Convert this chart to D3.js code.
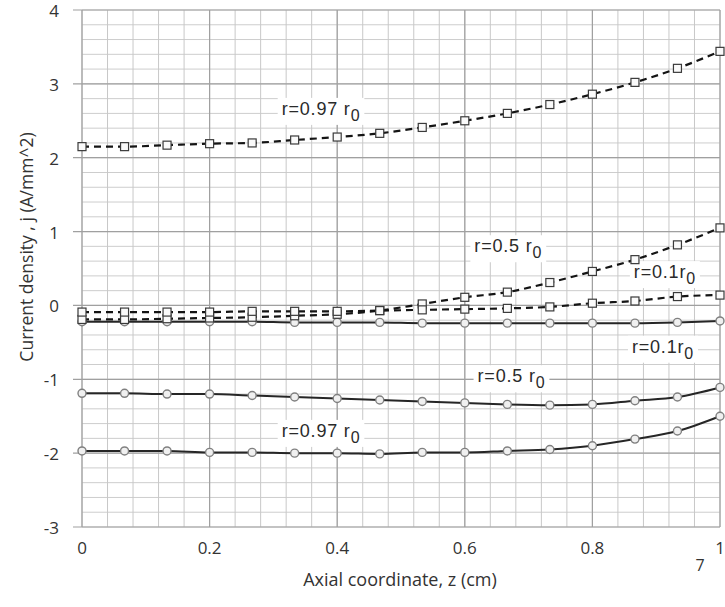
<!DOCTYPE html>
<html><head><meta charset="utf-8">
<script src="https://cdn.jsdelivr.net/npm/d3@7"></script>
<style>
html,body{margin:0;padding:0;background:#fff;}
svg{display:block;}
</style></head>
<body>
<svg id="chart" width="725" height="607"></svg>
<script>
// ---- data ----
const zValues = [0, 0.0667, 0.1333, 0.2, 0.2667, 0.3333, 0.4, 0.4667, 0.5333, 0.6, 0.6667, 0.7333, 0.8, 0.8667, 0.9333, 1.0];
const dashed097 = [2.15, 2.15, 2.17, 2.19, 2.20, 2.24, 2.28, 2.33, 2.41, 2.50, 2.60, 2.72, 2.86, 3.02, 3.21, 3.44];
const dashed05  = [-0.19, -0.19, -0.18, -0.17, -0.16, -0.14, -0.12, -0.07, 0.02, 0.11, 0.18, 0.31, 0.46, 0.62, 0.82, 1.05];
const dashed01  = [-0.09, -0.09, -0.09, -0.09, -0.08, -0.08, -0.08, -0.07, -0.06, -0.05, -0.04, -0.02, 0.03, 0.06, 0.12, 0.14];
const solid01   = [-0.22, -0.22, -0.22, -0.22, -0.22, -0.23, -0.23, -0.23, -0.24, -0.24, -0.24, -0.24, -0.24, -0.24, -0.23, -0.21];
const solid05   = [-1.19, -1.19, -1.20, -1.20, -1.22, -1.24, -1.26, -1.28, -1.30, -1.32, -1.34, -1.35, -1.34, -1.29, -1.24, -1.11];
const solid097  = [-1.97, -1.97, -1.97, -1.99, -1.99, -2.00, -2.00, -2.01, -1.99, -1.99, -1.97, -1.95, -1.90, -1.81, -1.70, -1.50];
const xTicks = [0, 0.2, 0.4, 0.6, 0.8, 1];
const xTickLabels = ["0", "0.2", "0.4", "0.6", "0.8", "1"];
const yTicks = [-3, -2, -1, 0, 1, 2, 3, 4];
const yTickLabels = ["-3", "-2", "-1", "0", "1", "2", "3", "4"];
const xMinor = [0,0.04,0.08,0.12,0.16,0.2,0.24,0.28,0.32,0.36,0.4,0.44,0.48,0.52,0.56,0.6,0.64,0.68,0.72,0.76,0.8,0.84,0.88,0.92,0.96,1];
const yMinor = [-3,-2.8,-2.6,-2.4,-2.2,-2,-1.8,-1.6,-1.4,-1.2,-1,-0.8,-0.6,-0.4,-0.2,0,0.2,0.4,0.6,0.8,1,1.2,1.4,1.6,1.8,2,2.2,2.4,2.6,2.8,3,3.2,3.4,3.6,3.8,4];
const xTitle = "Axial coordinate, z (cm)";
const yTitle = "Current density , j  (A/mm^2)";
// annotations: [main text, subscript, z, j]
const annotations = [
  ["r=0.97 r", "0", 0.313, 2.58],
  ["r=0.5 r", "0", 0.615, 0.72],
  ["r=0.1r", "0", 0.865, 0.37],
  ["r=0.1r", "0", 0.862, -0.64],
  ["r=0.5 r", "0", 0.62, -1.04],
  ["r=0.97 r", "0", 0.313, -1.78]
];

// ---- layout ----
const svg = d3.select("#chart");
const mLeft = 82, mRight = 720, mTop = 10, mBottom = 527;
const x = d3.scaleLinear().domain([0, 1]).range([mLeft, mRight]);
const y = d3.scaleLinear().domain([-3, 4]).range([mBottom, mTop]);

const g = svg.append("g");
// minor grid
g.append("g").selectAll("line").data(yMinor).join("line")
  .attr("x1", mLeft).attr("x2", mRight)
  .attr("y1", d => y(d)).attr("y2", d => y(d))
  .attr("stroke", "#cdcdcd").attr("stroke-width", 1);
g.append("g").selectAll("line").data(xMinor).join("line")
  .attr("x1", d => x(d)).attr("x2", d => x(d))
  .attr("y1", mTop).attr("y2", mBottom)
  .attr("stroke", "#c8c8c8").attr("stroke-width", 1);
// major grid
g.append("g").selectAll("line").data(yTicks).join("line")
  .attr("x1", mLeft - 9).attr("x2", mRight)
  .attr("y1", d => y(d)).attr("y2", d => y(d))
  .attr("stroke", "#a0a0a0").attr("stroke-width", 1.2);
g.append("g").selectAll("line").data(xTicks).join("line")
  .attr("x1", d => x(d)).attr("x2", d => x(d))
  .attr("y1", mTop).attr("y2", mBottom)
  .attr("stroke", "#a0a0a0").attr("stroke-width", 1.2);

// tick labels
const tickFont = "'Open Sans', 'Noto Sans', sans-serif";
svg.append("g").selectAll("text").data(yTicks).join("text")
  .attr("x", 59).attr("y", d => y(d) + 7)
  .attr("text-anchor", "end")
  .attr("font-family", tickFont).attr("font-size", 17).attr("fill", "#333")
  .text((d, i) => yTickLabels[i]);
svg.append("g").selectAll("text").data(xTicks).join("text")
  .attr("x", d => x(d)).attr("y", 554)
  .attr("text-anchor", "middle")
  .attr("font-family", tickFont).attr("font-size", 17).attr("fill", "#333")
  .text((d, i) => xTickLabels[i]);
svg.append("text").attr("x", 400).attr("y", 586).attr("text-anchor", "middle")
  .attr("font-family", tickFont).attr("font-size", 18).attr("fill", "#333")
  .text(xTitle);
svg.append("text").attr("transform", "translate(33,247) rotate(-90)")
  .attr("text-anchor", "middle")
  .attr("font-family", tickFont).attr("font-size", 17.5).attr("fill", "#333")
  .text(yTitle);
svg.append("text").attr("x", 700).attr("y", 571).attr("text-anchor", "middle")
  .attr("font-family", tickFont).attr("font-size", 16).attr("fill", "#333")
  .text("7");

// annotations with white backgrounds
const annFont = "'Liberation Sans', Arial, sans-serif";
annotations.forEach(a => {
  const ag = svg.append("g");
  const t = ag.append("text").attr("x", x(a[2])).attr("y", y(a[3]))
    .attr("font-family", annFont).attr("font-size", 18).attr("letter-spacing", 0.8)
    .attr("fill", "#2a2a2a");
  t.append("tspan").text(a[0]);
  t.append("tspan").attr("dy", 6).attr("font-size", 16).text(a[1]);
  const bb = t.node().getBBox();
  ag.insert("rect", "text").attr("x", bb.x - 4).attr("y", bb.y - 1)
    .attr("width", bb.width + 8).attr("height", bb.height + 2).attr("fill", "#fff");
});

// series
const line = d3.line().x((d, i) => x(zValues[i])).y(d => y(d)).curve(d3.curveMonotoneX);
const dashedSeries = [dashed097, dashed05, dashed01];
const solidSeries = [solid01, solid05, solid097];
solidSeries.forEach(s => {
  svg.append("path").attr("d", line(s)).attr("fill", "none")
    .attr("stroke", "#262626").attr("stroke-width", 2);
  svg.append("g").selectAll("circle").data(s).join("circle")
    .attr("cx", (d, i) => x(zValues[i])).attr("cy", d => y(d)).attr("r", 4)
    .attr("fill", "#f0f0f0").attr("stroke", "#808080").attr("stroke-width", 1.4);
});
dashedSeries.forEach(s => {
  svg.append("path").attr("d", line(s)).attr("fill", "none")
    .attr("stroke", "#141414").attr("stroke-width", 2.2).attr("stroke-dasharray", "7,5");
  svg.append("g").selectAll("rect").data(s).join("rect")
    .attr("x", (d, i) => x(zValues[i]) - 4).attr("y", d => y(d) - 4)
    .attr("width", 8).attr("height", 8)
    .attr("fill", "#fafafa").attr("stroke", "#3a3a3a").attr("stroke-width", 1.2);
});
</script>
</body></html>
